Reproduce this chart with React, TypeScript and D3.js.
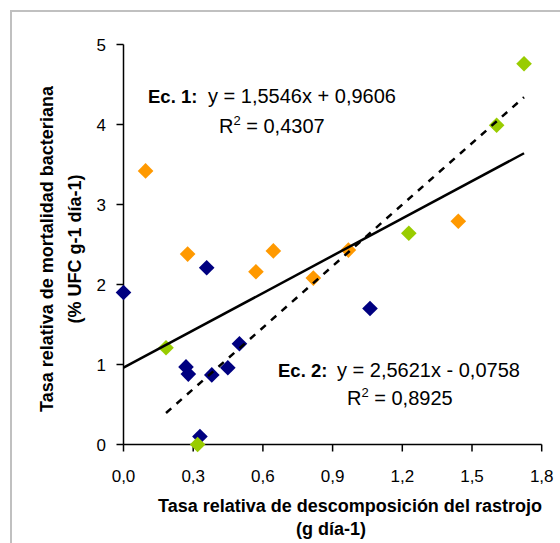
import * as d3 from "d3";

// ── data ──
const blueX = [0.0, 0.358, 0.269, 0.279, 0.38, 0.449, 0.499, 0.329, 1.061];
const blueY = [1.9, 2.21, 0.97, 0.88, 0.87, 0.96, 1.26, 0.1, 1.7];

const orangeX = [0.095, 0.276, 0.57, 0.645, 0.817, 0.968, 1.441];
const orangeY = [3.42, 2.38, 2.16, 2.42, 2.08, 2.43, 2.79];

const greenX = [0.183, 0.319, 1.228, 1.606, 1.724];
const greenY = [1.21, 0.0, 2.64, 3.99, 4.76];

const xTicks = [0, 0.3, 0.6, 0.9, 1.2, 1.5, 1.8];
const yTicks = [0, 1, 2, 3, 4, 5];

// trendline coefficients as printed on the chart
const eq1 = { slope: 1.5546, intercept: 0.9606 };
const eq2 = { slope: 2.5621, intercept: -0.0758 };

const W = 560;
const H = 543;
const plot = { left: 123.5, right: 541.7, top: 44.5, bottom: 444.5 };
const FONT = "Arial, 'Liberation Sans', sans-serif";

const x = d3.scaleLinear().domain([0, 1.8]).range([plot.left, plot.right]);
const y = d3.scaleLinear().domain([0, 5]).range([plot.bottom, plot.top]);

const fmt = (v: number) => v.toFixed(1).replace(".", ",");

const series = [
  { color: "#000080", xs: blueX, ys: blueY },
  { color: "#FF9900", xs: orangeX, ys: orangeY },
  { color: "#99CC00", xs: greenX, ys: greenY },
];

const diamond = d3.symbol().type(d3.symbolDiamond2).size(156);

function trend(eq: { slope: number; intercept: number }, xs: number[]) {
  const [x0, x1] = d3.extent(xs) as [number, number];
  return d3.line<number>()
    .x((v) => x(v))
    .y((v) => y(eq.slope * v + eq.intercept))([x0, x1]);
}

export default function App() {
  const allX = [...blueX, ...orangeX, ...greenX];

  return (
    <svg
      width={W}
      height={H}
      style={{ position: "absolute", left: 0, top: 0, display: "block", background: "#fff" }}
      fontFamily={FONT}
    >
      <rect x={11} y={11} width={700} height={700} fill="#fff" stroke="#C0C0C0" strokeWidth={2} />

      {/* axes */}
      <line x1={plot.left} x2={plot.left} y1={plot.top} y2={plot.bottom} stroke="#000" strokeWidth={1.5} />
      <line x1={plot.left} x2={plot.right} y1={plot.bottom} y2={plot.bottom} stroke="#000" strokeWidth={1.5} />

      {yTicks.map((t) => (
        <g key={"y" + t}>
          <line x1={plot.left - 7} x2={plot.left} y1={y(t)} y2={y(t)} stroke="#000" strokeWidth={1.5} />
          <text x={106} y={y(t)} dy="0.36em" textAnchor="end" fontSize={17} fill="#000">{t}</text>
        </g>
      ))}

      {xTicks.map((t) => (
        <g key={"x" + t}>
          <line x1={x(t)} x2={x(t)} y1={plot.bottom} y2={plot.bottom + 7} stroke="#000" strokeWidth={1.5} />
          <text x={x(t)} y={482} textAnchor="middle" fontSize={17} fill="#000">{fmt(t)}</text>
        </g>
      ))}

      {/* points */}
      {series.map((s, si) =>
        s.xs.map((v, i) => (
          <path key={si + "-" + i} d={diamond()!} transform={`translate(${x(v)},${y(s.ys[i])})`} fill={s.color} />
        ))
      )}

      {/* trendlines */}
      <path d={trend(eq1, allX)!} fill="none" stroke="#000" strokeWidth={2.5} />
      <path d={trend(eq2, greenX)!} fill="none" stroke="#000" strokeWidth={2.5} strokeDasharray="7,7" />

      {/* equations */}
      <text x={148} y={103} fontSize={20} fill="#000">
        <tspan fontWeight={700} fontSize={18.5}>Ec. 1:</tspan>
        <tspan x={208}>y = 1,5546x + 0,9606</tspan>
      </text>
      <text x={219} y={133} fontSize={20} fill="#000">
        R<tspan dy={-8} fontSize={13}>2</tspan><tspan dy={8}> = 0,4307</tspan>
      </text>
      <text x={278} y={377} fontSize={20} fill="#000">
        <tspan fontWeight={700} fontSize={18.5}>Ec. 2:</tspan>
        <tspan x={337}>y = 2,5621x - 0,0758</tspan>
      </text>
      <text x={347} y={405} fontSize={20} fill="#000">
        R<tspan dy={-8} fontSize={13}>2</tspan><tspan dy={8}> = 0,8925</tspan>
      </text>

      {/* axis titles */}
      <text x={350} y={512} textAnchor="middle" fontSize={18} fontWeight={700} fill="#000">
        Tasa relativa de descomposición del rastrojo
      </text>
      <text x={331} y={535} textAnchor="middle" fontSize={18} fontWeight={700} fill="#000">
        (g día-1)
      </text>
      <g transform="translate(53,249) rotate(-90)">
        <text x={0} y={0} textAnchor="middle" fontSize={18} fontWeight={700} fill="#000">
          Tasa relativa de mortalidad bacteriana
        </text>
        <text x={0} y={28} textAnchor="middle" fontSize={18} fontWeight={700} fill="#000">
          (% UFC g-1 día-1)
        </text>
      </g>
    </svg>
  );
}
